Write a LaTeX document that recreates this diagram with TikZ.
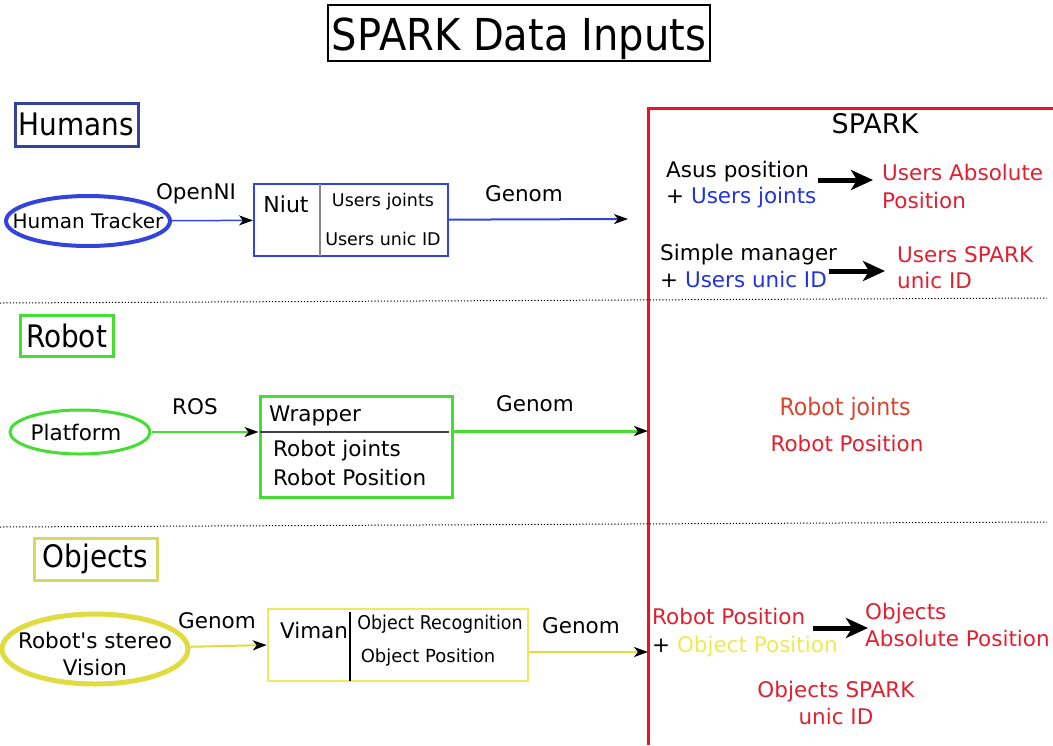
\documentclass[tikz,border=0pt]{standalone}
\usepackage{fontspec}
\setmainfont{DejaVu Sans}
\newfontfamily\condfont[FakeStretch=0.92]{DejaVu Sans}
\newfontfamily\titlefont[FakeStretch=0.91]{DejaVu Sans}
\newfontfamily\headfont[FakeStretch=0.9]{DejaVu Sans}
\usetikzlibrary{shapes.geometric,arrows.meta}
\definecolor{navy}{HTML}{33449A}
\definecolor{hblue}{HTML}{3344DD}
\definecolor{tblue}{HTML}{2233DD}
\definecolor{sred}{HTML}{EE1122}
\definecolor{tred}{HTML}{E02030}
\definecolor{ored}{HTML}{D84430}
\definecolor{rgreen}{HTML}{44DD33}
\definecolor{ygold}{HTML}{E0DC40}
\definecolor{ybox}{HTML}{F0E860}
\definecolor{ytext}{HTML}{F0E850}
\definecolor{ohead}{HTML}{D8D860}
\definecolor{divgray}{HTML}{888888}
\newcommand\fsz[2]{\fontsize{#1}{#2}\selectfont}
\begin{document}
\begin{tikzpicture}[x=1pt,y=-1pt,
  every node/.style={inner sep=0pt},
  txt/.style={font=\fsz{21.5}{27}},
  heading/.style={draw,line width=3pt,font=\headfont\fsz{31}{36}},
  box/.style={draw,rectangle},
  tip/.style={-{Stealth[length=14pt,width=10pt,inset=4pt,black]}},
  bigtip/.style={line width=5pt,-{Stealth[length=22pt,width=20pt,inset=6pt]}},
  sep/.style={line width=1pt,dash pattern=on 1.2pt off 2pt}
  ]
\useasboundingbox (0,0) rectangle (1053,745);
% title
\node[draw,line width=2.5pt,minimum width=382pt,minimum height=56pt] (title) at (519,33) {};
\node[font=\titlefont\fsz{44}{50},anchor=base] (titlel) at (519,50) {SPARK Data Inputs};
% ---------- Humans
\node[heading,draw=navy,minimum width=123pt,minimum height=43pt] (humans) at (76.5,124.5) {Humans};
\node[ellipse,draw=hblue,line width=4pt,minimum width=164pt,minimum height=50pt] (ht) at (88,221) {};
\node[font=\fsz{20}{24}] (htl) at (ht.center) {Human Tracker};
\node[box,draw=hblue,line width=2pt,minimum width=194pt,minimum height=72pt] (niut) at (351,220) {};
\draw[divgray,line width=1.5pt] (320,184) -- (320,256);
\node[font=\fsz{22}{26}] (niutl) at (286,204) {Niut};
\node[font=\fsz{17.5}{21}] (uj) at (383,202) {Users joints};
\node[font=\fsz{17.5}{21}] (uid) at (383,239) {Users unic ID};
\node[txt] (openni) at (196,194) {OpenNI};
\node[txt] (genom1) at (524,194) {Genom};
\coordinate (hend) at (628,219);
\draw[hblue,line width=1.5pt,tip] (ht) -- (niut);
\draw[hblue,line width=2pt,tip] (niut) -- (hend);
% ---------- SPARK
\draw[sred,line width=3pt] (648,745) -- (648,108) -- (1053,108);
\node[font=\fsz{27}{32}] (spark) at (875,124) {SPARK};
\node[txt,anchor=base west,align=left,font=\fsz{21.5}{26}] (asus) at (666,203) {Asus position\\+ \textcolor{tblue}{Users joints}};
\node[txt,anchor=base west,align=left,text=tred,font=\fsz{21.5}{28}] (uabs) at (882,208) {Users Absolute\\Position};
\coordinate (a1s) at (818,180);
\coordinate (a1e) at (873,180);
\draw[bigtip] (a1s) -- (a1e);
\node[txt,anchor=base west,align=left] (simple) at (660,287) {Simple manager\\+ \textcolor{tblue}{Users unic ID}};
\node[txt,anchor=base west,align=left,text=tred,font=\fsz{21.5}{26}] (uspark) at (897,288) {Users SPARK\\unic ID};
\coordinate (a2s) at (829,271);
\coordinate (a2e) at (885,271);
\draw[bigtip] (a2s) -- (a2e);
% separators
\draw[sep] (0,303) -- (1047,298);
\draw[sep] (0,527) -- (1047,522);
% ---------- Robot
\node[heading,draw=rgreen,minimum width=93pt,minimum height=41pt] (robot) at (66.5,335.5) {Robot};
\node[ellipse,draw=rgreen,line width=3pt,minimum width=140pt,minimum height=44pt] (plat) at (80,432) {};
\node[txt,xshift=-4pt] (platl) at (plat.center) {Platform};
\node[box,draw=rgreen,line width=3pt,minimum width=192pt,minimum height=101pt] (wrap) at (356,446.5) {};
\draw[darkgray,line width=1.5pt] (260,432) -- (449,432);
\node[txt,anchor=base west] (wrapl) at (269,421) {Wrapper};
\node[txt,anchor=base west,align=left,font=\fsz{21.5}{29}] (rjp) at (273,485) {Robot joints\\Robot Position};
\node[txt] (ros) at (195,407) {ROS};
\node[txt] (genom2) at (535,404) {Genom};
\coordinate (rend) at (648,431);
\draw[rgreen,line width=2pt,tip] (plat.east) -- (wrap.west |- plat.east);
\draw[rgreen,line width=3pt,tip] (wrap.east |- rend) -- (rend);
\node[font=\condfont\fsz{24}{28},text=ored] (rj) at (845,409) {Robot joints};
\node[txt,text=tred] (rp) at (847,443) {Robot Position};
% ---------- Objects
\node[heading,draw=ohead,minimum width=123pt,minimum height=42pt] (objects) at (95.5,559) {Objects};
\node[ellipse,draw=ygold,line width=5pt,minimum width=186pt,minimum height=70pt] (stereo) at (95,649) {};
\node[txt,align=center,yshift=-5pt] (stereol) at (stereo.center) {Robot\textquotesingle s stereo\\Vision};
\node[box,draw=ybox,line width=2.5pt,minimum width=260pt,minimum height=72pt] (viman) at (398,645) {};
\draw[black,line width=1.5pt] (350,612) -- (350,681);
\node[txt] (vimanl) at (314,630) {Viman};
\node[font=\condfont\fsz{19}{23}] (orec) at (440,624) {Object Recognition};
\node[font=\fsz{18}{22}] (opos) at (428,658) {Object Position};
\node[txt] (genom3) at (217,621) {Genom};
\node[txt] (genom4) at (581,626) {Genom};
\draw[ygold,line width=2pt,tip] (stereo) -- (viman.west);
\coordinate (oend) at (648,652);
\draw[ygold,line width=2pt,tip] (viman.east |- oend) -- (oend);
\node[txt,anchor=base west,align=left,font=\fsz{21.5}{28}] (rpop) at (652,652) {\textcolor{tred}{Robot Position}\\+ \textcolor{ytext}{Object Position}};
\coordinate (a3s) at (813,628);
\coordinate (a3e) at (868,628);
\draw[bigtip] (a3s) -- (a3e);
\node[txt,anchor=base west,align=left,text=tred] (oabs) at (865,646) {Objects\\Absolute Position};
\node[txt,align=center,text=tred] (ospark) at (836,703) {Objects SPARK\\unic ID};
\end{tikzpicture}
\end{document}
